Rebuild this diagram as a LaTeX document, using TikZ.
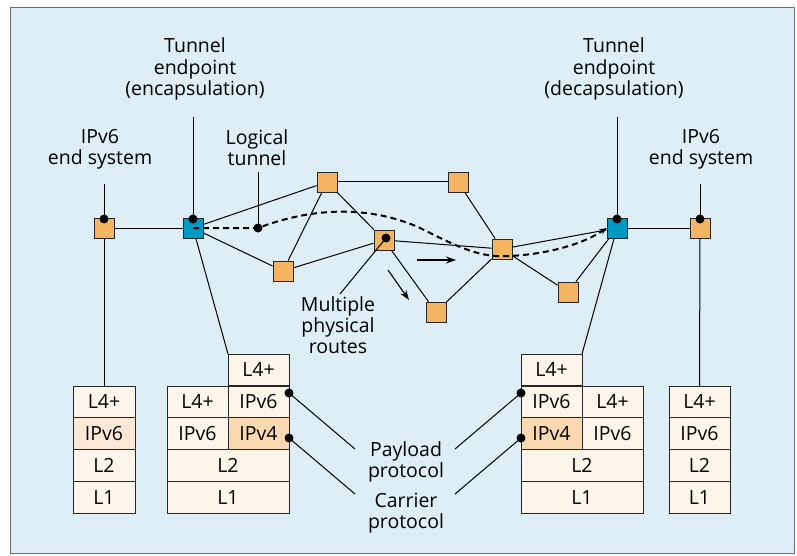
\documentclass[tikz,border=0pt]{standalone}
\usepackage{fontspec}
\setmainfont{Open Sans}
\usetikzlibrary{arrows.meta}

\definecolor{panel}{RGB}{222,238,246}
\definecolor{panelrule}{RGB}{110,110,110}
\definecolor{routerorange}{RGB}{245,180,98}
\definecolor{tunnelblue}{RGB}{0,153,194}
\definecolor{cellfill}{RGB}{253,245,234}
\definecolor{cellpeach}{RGB}{253,232,215}
\definecolor{cellorange}{RGB}{250,217,176}

\tikzset{
  router/.style={draw=black!85, fill=routerorange, minimum size=20pt, inner sep=0pt, line width=0.9pt},
  endpoint/.style={router, fill=tunnelblue},
  link/.style={line width=1pt},
  lbl/.style={align=center, font=\fontsize{19.5}{21.3}\selectfont, inner sep=0pt},
  cell/.style={draw=black!85, fill=cellfill, minimum height=31.75pt, inner sep=0pt, outer sep=0pt,
               anchor=north west, font=\fontsize{19.5}{21.3}\selectfont, line width=0.9pt},
  pin/.style={circle, fill=black, inner sep=0pt, minimum size=9pt},
  tunnelpath/.style={line width=2pt, dash pattern=on 6pt off 4pt},
  flow/.style={line width=1.1pt, -{Stealth[length=10pt, width=7pt]}},
}

\begin{document}
\begin{tikzpicture}[x=1pt, y=-1pt]
  \useasboundingbox (0,0) rectangle (797,556);
  \draw[panelrule, fill=panel, line width=0.9pt] (10,7) rectangle (794,553);

  % routers and end points
  \node[router]   (esl) at (104,228) {};
  \node[endpoint] (tel) at (193,228) {};
  \node[router]   (ra)  at (327,182) {};
  \node[router]   (rb)  at (283,271) {};
  \node[router]   (rc)  at (384,240) {};
  \node[router]   (rd)  at (458,182) {};
  \node[router]   (re)  at (436,312) {};
  \node[router]   (rf)  at (502,249) {};
  \node[router]   (rg)  at (568,292) {};
  \node[endpoint] (ter) at (617,228) {};
  \node[router]   (esr) at (700,228) {};

  % protocol stacks
  % left end system
  \node[cell, minimum width=62pt] (s1a) at (73,386) {L4+};
  \node[cell, minimum width=62pt, fill=cellpeach] (s1b) at (73,417.75) {IPv6};
  \node[cell, minimum width=62pt] (s1c) at (73,449.5) {L2};
  \node[cell, minimum width=62pt] (s1d) at (73,481.25) {L1};
  % encapsulating endpoint
  \node[cell, minimum width=61pt] (s2t) at (228,354) {L4+};
  \node[cell, minimum width=61pt] (s2a) at (167,386) {L4+};
  \node[cell, minimum width=61pt] (s2b) at (228,386) {IPv6};
  \node[cell, minimum width=61pt] (s2c) at (167,417.75) {IPv6};
  \node[cell, minimum width=61pt, fill=cellorange] (s2d) at (228,417.75) {IPv4};
  \node[cell, minimum width=122pt] (s2e) at (167,449.5) {L2};
  \node[cell, minimum width=122pt] (s2f) at (167,481.25) {L1};
  % decapsulating endpoint
  \node[cell, minimum width=61pt] (s3t) at (521,354) {L4+};
  \node[cell, minimum width=61pt] (s3a) at (521,386) {IPv6};
  \node[cell, minimum width=61pt] (s3b) at (582,386) {L4+};
  \node[cell, minimum width=61pt, fill=cellorange] (s3c) at (521,417.75) {IPv4};
  \node[cell, minimum width=61pt] (s3d) at (582,417.75) {IPv6};
  \node[cell, minimum width=122pt] (s3e) at (521,449.5) {L2};
  \node[cell, minimum width=122pt] (s3f) at (521,481.25) {L1};
  % right end system
  \node[cell, minimum width=61pt] (s4a) at (669,386) {L4+};
  \node[cell, minimum width=61pt] (s4b) at (669,417.75) {IPv6};
  \node[cell, minimum width=61pt] (s4c) at (669,449.5) {L2};
  \node[cell, minimum width=61pt] (s4d) at (669,481.25) {L1};

  % physical links
  \begin{scope}[link]
    \draw (esl) -- (tel);
    \draw (tel) -- (ra);
    \draw (tel) -- (rb);
    \draw (ra) -- (rd);
    \draw (ra) -- (rb);
    \draw (ra) -- (rc);
    \draw (rb) -- (rc);
    \draw (rc) -- (rf);
    \draw (rc) -- (re);
    \draw (re) -- (rf);
    \draw (rd) -- (rf);
    \draw (rf) -- (ter);
    \draw (rf) -- (rg);
    \draw (rg) -- (ter);
    \draw (ter) -- (esr);
    % links down to the stacks
    \draw (esl) -- (s1a.north);
    \draw (esr) -- (s4a.north);
    \draw (tel) -- (s2t.north west);
    \draw (ter) -- (s3t.north east);
  \end{scope}

  % labels with their pointers
  \node[lbl] (lesl) at (100,149) {IPv6\\end system};
  \node[lbl] (lesr) at (701,149) {IPv6\\end system};
  \node[lbl] (ltel) at (195,69) {Tunnel\\endpoint\\(encapsulation)};
  \node[lbl] (lter) at (614,69) {Tunnel\\endpoint\\(decapsulation)};
  \node[lbl] (ltun) at (257,148) {Logical\\tunnel};
  \node[lbl] (lrou) at (338,325) {Multiple\\physical\\routes};
  \node[lbl] (lpay) at (406,462) {Payload\\protocol};
  \node[lbl] (lcar) at (406,513) {Carrier\\protocol};

  \coordinate (cesl) at (104,184);
  \coordinate (cesr) at (700,184);
  \coordinate (ctel) at (193,117);
  \coordinate (cter) at (617,117);
  \coordinate (ctun) at (258,172);
  \coordinate (crou) at (340,294);
  \coordinate (cpayl) at (355,449);
  \coordinate (ccarl) at (355,494);
  \coordinate (cpayr) at (455,449);
  \coordinate (ccarr) at (455,494);

  \node[pin] (pesl) at (104,219) {};
  \node[pin] (pesr) at (700,219) {};
  \node[pin] (ptel) at (193,219) {};
  \node[pin] (pter) at (617,219) {};
  \node[pin] (ptun) at (258,228) {};
  \node[pin] (prou) at (386,238) {};
  \node[pin] (ppayl) at (289,393) {};
  \node[pin] (pcarl) at (289,438) {};
  \node[pin] (ppayr) at (521,393) {};
  \node[pin] (pcarr) at (521,438) {};

  \begin{scope}[link]
    \draw (cesl) -- (pesl.center);
    \draw (cesr) -- (pesr.center);
    \draw (ctel) -- (ptel.center);
    \draw (cter) -- (pter.center);
    \draw (ctun) -- (ptun.center);
    \draw (crou) -- (prou.center);
    \draw (cpayl) -- (ppayl.center);
    \draw (ccarl) -- (pcarl.center);
    \draw (cpayr) -- (ppayr.center);
    \draw (ccarr) -- (pcarr.center);
  \end{scope}

  % logical tunnel between the two endpoints
  \draw[tunnelpath, -{Stealth[length=7pt, width=6pt]}]
    (tel.center) -- (ptun.center)
    .. controls (295,214) and (355,200) .. (418,227)
    .. controls (460,248) and (480,258) .. (510,256)
    .. controls (550,254) and (585,243) .. (ter.west);

  % direction of traffic over the routes
  \coordinate (f1s) at (417,260);
  \coordinate (f1e) at (456,260);
  \coordinate (f2s) at (388,270);
  \coordinate (f2e) at (409,300);
  \draw[flow] (f1s) -- (f1e);
  \draw[flow] (f2s) -- (f2e);
\end{tikzpicture}
\end{document}
